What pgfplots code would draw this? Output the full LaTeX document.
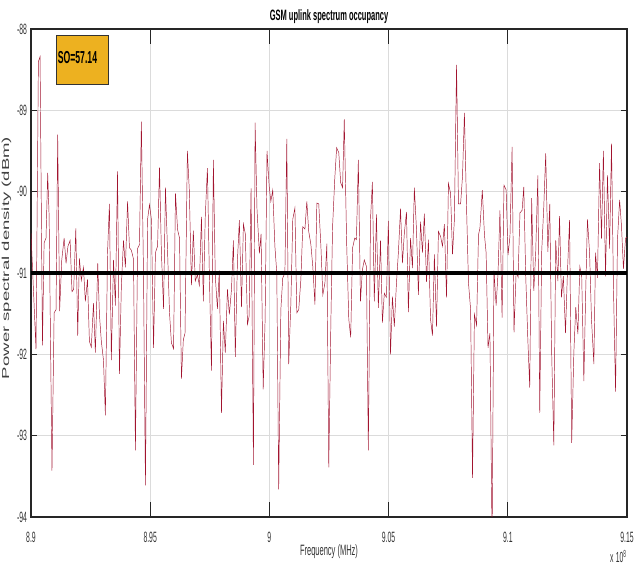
\documentclass[border=0pt]{standalone}
\usepackage{fontspec}
\setmainfont{Liberation Sans}[FakeStretch=0.5]
\newfontfamily\tickfont{Liberation Sans}[FakeStretch=0.46]
\newfontfamily\ylabfont{Liberation Sans}[FakeStretch=1.83]
\usepackage{pgfplots}
\pgfplotsset{compat=1.18}
\definecolor{sigred}{rgb}{0.635,0.078,0.184}
\definecolor{boxorange}{HTML}{EDB120}
\begin{document}
\begin{tikzpicture}
\begin{axis}[
  name=ax, at={(0,0)}, anchor=south west,
  scale only axis, width=447pt, height=366pt,
  xmin=8.9, xmax=9.15, ymin=-94, ymax=-88,
  xtick={8.9,8.95,9,9.05,9.1,9.15},
  xticklabels={8.9,8.95,9,9.05,9.1,9.15},
  ytick={-94,-93,-92,-91,-90,-89,-88},
  yticklabels={-94,-93,-92,-91,-90,-89,-88},
  grid=major, major grid style={black!14, line width=0.8pt},
  axis line style={black!85, line width=1.4pt},
  tick align=inside, major tick length=4.5pt,
  tick style={black!85, line width=1pt},
  /pgf/number format/assume math mode=true,
  xticklabel style={font=\tickfont\fontsize{11.2}{12}\selectfont, text=black!80, anchor=base, yshift=-18.9pt},
  yticklabel style={font=\tickfont\fontsize{11.2}{12}\selectfont, text=black!80, xshift=0.5pt},
]
\addplot[sigred, line width=0.35pt] coordinates {
(8.9000,-90.51) (8.9021,-91.94) (8.9031,-88.40) (8.9038,-88.34) (8.9048,-91.89) (8.9055,-90.63)
(8.9063,-90.57) (8.9070,-89.77) (8.9076,-90.30) (8.9088,-93.43) (8.9097,-91.49) (8.9105,-91.45)
(8.9112,-89.30) (8.9120,-91.47) (8.9129,-90.84) (8.9139,-90.57) (8.9147,-90.88) (8.9155,-90.67)
(8.9164,-90.60) (8.9172,-91.23) (8.9179,-91.20) (8.9188,-90.45) (8.9196,-91.77) (8.9203,-90.82)
(8.9211,-91.09) (8.9220,-90.93) (8.9228,-91.35) (8.9237,-91.08) (8.9245,-91.84) (8.9253,-91.91)
(8.9262,-91.37) (8.9270,-91.98) (8.9280,-90.88) (8.9287,-91.51) (8.9295,-91.84) (8.9304,-92.07)
(8.9312,-92.75) (8.9321,-90.75) (8.9329,-90.15) (8.9337,-92.07) (8.9346,-90.84) (8.9354,-91.40)
(8.9363,-89.75) (8.9371,-92.24) (8.9379,-91.16) (8.9388,-90.60) (8.9396,-90.93) (8.9405,-90.12)
(8.9413,-90.69) (8.9421,-90.72) (8.9430,-90.83) (8.9438,-93.18) (8.9447,-90.70) (8.9455,-90.65)
(8.9463,-89.14) (8.9472,-91.04) (8.9480,-93.61) (8.9489,-90.34) (8.9497,-90.16) (8.9505,-90.34)
(8.9514,-91.92) (8.9522,-90.75) (8.9531,-90.67) (8.9539,-89.70) (8.9547,-90.75) (8.9556,-91.44)
(8.9564,-89.95) (8.9573,-90.75) (8.9581,-91.49) (8.9589,-91.86) (8.9598,-91.93) (8.9606,-90.02)
(8.9615,-90.47) (8.9623,-90.57)
(8.9631,-92.30) (8.9639,-91.82) (8.9646,-91.74) (8.9656,-89.50) (8.9664,-89.98) (8.9673,-91.15)
(8.9681,-90.48) (8.9689,-91.10) (8.9698,-91.02) (8.9706,-91.15) (8.9715,-90.31) (8.9723,-91.35)
(8.9731,-90.30) (8.9740,-89.71) (8.9748,-91.00) (8.9757,-92.20) (8.9765,-89.61) (8.9773,-91.04)
(8.9782,-91.44) (8.9790,-90.97) (8.9799,-92.72) (8.9807,-91.59) (8.9815,-91.98) (8.9824,-91.20)
(8.9832,-91.51) (8.9841,-91.20) (8.9849,-90.60) (8.9857,-92.03) (8.9866,-90.84) (8.9874,-90.35)
(8.9883,-91.42) (8.9891,-90.40) (8.9899,-90.52) (8.9908,-91.63) (8.9915,-91.53) (8.9923,-89.96)
(8.9933,-93.36) (8.9940,-89.15) (8.9948,-90.22) (8.9958,-90.76) (8.9965,-90.52) (8.9974,-92.43)
(8.9982,-91.57) (8.9990,-89.50) (8.9999,-89.93) (9.0006,-90.12) (9.0014,-89.98) (9.0023,-90.67)
(9.0031,-91.00) (9.0039,-93.66) (9.0048,-91.45) (9.0056,-91.06) (9.0065,-91.00) (9.0073,-89.35)
(9.0081,-92.12) (9.0090,-91.37) (9.0098,-90.34) (9.0107,-90.20) (9.0115,-91.49) (9.0123,-91.45)
(9.0132,-91.08) (9.0140,-90.43) (9.0149,-90.46) (9.0157,-90.12) (9.0165,-90.49) (9.0174,-90.65)
(9.0182,-90.92) (9.0191,-91.39) (9.0199,-90.14) (9.0207,-90.15) (9.0216,-90.67) (9.0224,-91.27)
(9.0233,-91.12) (9.0241,-90.64) (9.0249,-93.39)
(9.0258,-91.57) (9.0265,-90.43) (9.0274,-89.85) (9.0282,-89.46) (9.0291,-89.52) (9.0299,-89.89)
(9.0307,-89.95) (9.0314,-89.11) (9.0324,-90.63) (9.0333,-91.57) (9.0341,-91.79) (9.0349,-90.69)
(9.0358,-90.57) (9.0365,-90.59) (9.0373,-89.61) (9.0382,-91.35) (9.0390,-90.96) (9.0398,-90.84)
(9.0407,-90.92) (9.0415,-93.18) (9.0424,-90.34) (9.0432,-89.88) (9.0440,-91.35) (9.0449,-90.28)
(9.0457,-91.43) (9.0466,-90.60) (9.0474,-91.61) (9.0482,-91.25) (9.0491,-91.30) (9.0499,-90.36)
(9.0508,-92.00) (9.0516,-91.29) (9.0524,-91.66) (9.0533,-91.12) (9.0541,-90.75) (9.0550,-90.21)
(9.0558,-90.88) (9.0566,-90.51) (9.0575,-90.25) (9.0583,-91.48) (9.0592,-90.57) (9.0600,-90.94)
(9.0608,-89.95) (9.0617,-90.47) (9.0625,-91.27) (9.0634,-90.37) (9.0642,-90.75) (9.0650,-90.27)
(9.0659,-91.11) (9.0667,-90.59) (9.0676,-91.57) (9.0684,-91.77) (9.0692,-90.77) (9.0701,-91.66)
(9.0709,-90.49) (9.0718,-90.55) (9.0726,-90.67) (9.0734,-90.40) (9.0743,-91.30) (9.0751,-89.90)
(9.0760,-90.02) (9.0768,-90.77) (9.0776,-90.34) (9.0785,-88.44) (9.0793,-90.15) (9.0802,-90.15)
(9.0810,-89.81) (9.0818,-89.03) (9.0827,-90.20) (9.0835,-91.12) (9.0844,-91.45) (9.0852,-93.52)
(9.0860,-91.51) (9.0869,-91.64) (9.0877,-90.53)
(9.0883,-90.45) (9.0893,-89.98) (9.0902,-90.53) (9.0909,-90.75) (9.0917,-91.92) (9.0925,-91.74)
(9.0934,-94.30) (9.0942,-90.97) (9.0951,-91.40) (9.0959,-91.00) (9.0967,-90.23) (9.0976,-91.55)
(9.0984,-89.92) (9.0993,-89.98) (9.1001,-90.78) (9.1009,-90.55) (9.1018,-89.45) (9.1026,-91.73)
(9.1035,-90.98) (9.1043,-91.05) (9.1051,-90.26) (9.1060,-90.23) (9.1067,-89.94) (9.1075,-91.02)
(9.1084,-91.82) (9.1092,-92.41) (9.1100,-90.08) (9.1109,-91.22) (9.1117,-90.75) (9.1126,-89.80)
(9.1134,-92.72) (9.1142,-90.75) (9.1151,-90.18) (9.1159,-89.53) (9.1168,-90.74) (9.1176,-90.15)
(9.1184,-91.98) (9.1193,-93.12) (9.1201,-90.60) (9.1210,-91.10) (9.1217,-90.30) (9.1225,-91.30)
(9.1233,-91.04) (9.1242,-91.74) (9.1250,-91.00) (9.1259,-90.35) (9.1268,-93.09) (9.1277,-91.98)
(9.1285,-91.42) (9.1294,-91.75) (9.1302,-90.92) (9.1310,-91.04) (9.1319,-92.33) (9.1327,-91.20)
(9.1334,-90.34) (9.1343,-90.75) (9.1351,-91.57) (9.1361,-92.12) (9.1368,-90.75) (9.1376,-91.06)
(9.1385,-89.65) (9.1393,-90.58) (9.1401,-89.50) (9.1410,-91.04) (9.1418,-89.80) (9.1427,-90.70)
(9.1435,-89.41) (9.1443,-91.16) (9.1452,-92.46) (9.1460,-90.59) (9.1469,-90.10) (9.1477,-90.43)
(9.1485,-90.95) (9.1494,-90.57) (9.1500,-90.56)
};
\addplot[black, line width=3.2pt] coordinates {(8.9,-91) (9.15,-91)};
\pgfplotsinvokeforeach{8.95,9,9.05,9.1}{
  \draw[black!85, line width=1pt] (axis cs:#1,-94) -- ++(0pt,11.25pt);
  \draw[black!85, line width=1pt] (axis cs:#1,-88) -- ++(0pt,-11.25pt);
}
\end{axis}
\node[anchor=base, font=\bfseries\fontsize{11.25}{12}\selectfont] at ([yshift=6.4pt]ax.north) {GSM uplink spectrum occupancy};
\node[anchor=base, text=black!80, font=\fontsize{11.25}{12}\selectfont] at ([yshift=-29.25pt]ax.south) {Frequency (MHz)};
\node[anchor=base east, text=black!80, font=\tickfont\fontsize{11}{12}\selectfont, inner sep=0pt] at ([yshift=-34.5pt]ax.south east) {x\,10\textsuperscript{8}};
\node[rotate=90, anchor=center, text=black!75, font=\ylabfont\fontsize{7.6}{8}\selectfont] at ([xshift=-18.4pt, yshift=11.3pt]ax.west) {Power spectral density (dBm)};
\draw[fill=boxorange, draw=black!80, line width=0.6pt] ([shift={(19.1pt,-4.9pt)}]ax.north west) rectangle ([shift={(57.75pt,-41.25pt)}]ax.north west);
\node[anchor=base west, inner sep=0pt, font=\bfseries\fontsize{13}{14}\selectfont] at ([shift={(19.9pt,-26.25pt)}]ax.north west) {SO=57.14};
\pgfresetboundingbox
\path[use as bounding box] ([shift={(-23.25pt,-43.5pt)}]ax.south west) rectangle ([shift={(5.25pt,21.75pt)}]ax.north east);
\end{tikzpicture}
\end{document}
